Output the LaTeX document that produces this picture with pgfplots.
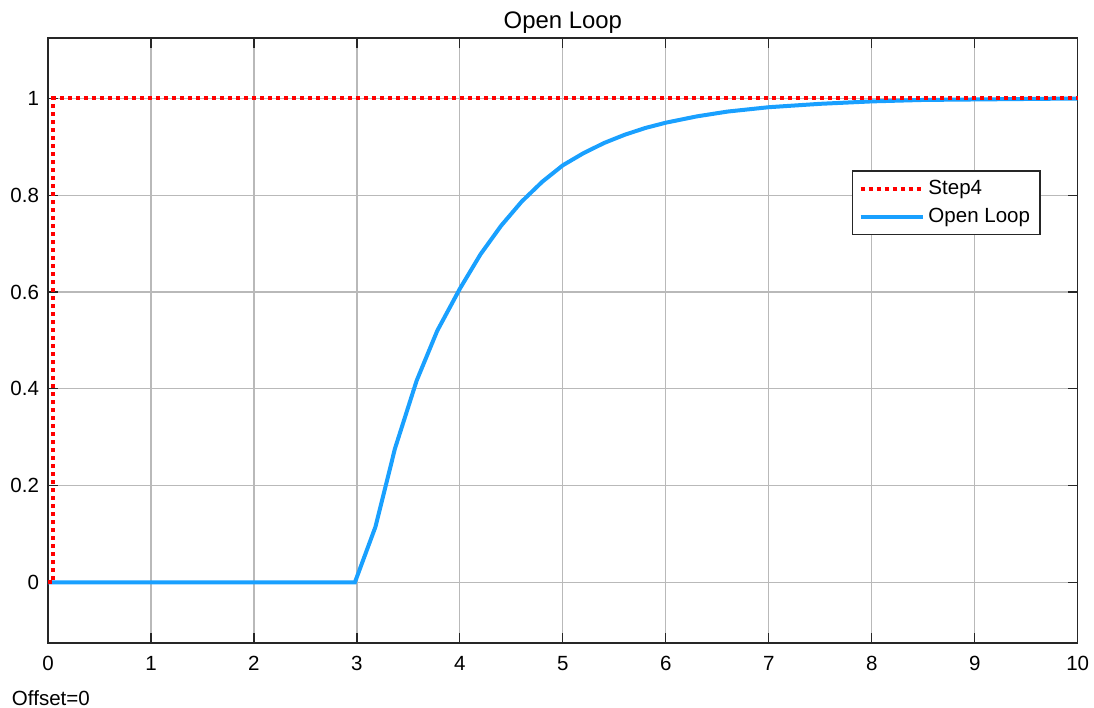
\documentclass[border=0pt]{standalone}
\usepackage{fontspec}
\setmainfont{Liberation Sans}
\usepackage{pgfplots}
\pgfplotsset{compat=1.18}
\definecolor{stepred}{rgb}{1,0,0}
\definecolor{olblue}{RGB}{25,160,255}
\definecolor{gridgray}{RGB}{185,185,185}
\definecolor{axgray}{RGB}{38,38,38}
\begin{document}
\begin{tikzpicture}
\begin{axis}[
  scale only axis, width=514.85bp, height=302.5bp,
  xmin=0, xmax=10, ymin=-0.125, ymax=1.125,
  xtick={0,1,...,10}, ytick={0,0.2,0.4,0.6,0.8,1},
  grid=major, major grid style={gridgray, line width=0.6bp},
  axis line style={axgray, line width=0.6bp},
  tick style={axgray, line width=0.6bp}, major tick length=5bp, tick align=inside,
  /pgf/number format/assume math mode=true,
  ticklabel style={font=\fontsize{10.3}{12}\selectfont, text=black},
  xticklabel style={yshift=-3bp},
  yticklabel style={xshift=-1bp},
  title={Open Loop},
  title style={at={(0.5,1)}, anchor=base, yshift=-1bp, font=\fontsize{12}{14}\selectfont},
  legend style={at={(0.964,0.781)}, anchor=north east, draw=axgray, line width=0.6bp,
    font=\fontsize{10.3}{12}\selectfont, row sep=1.5bp, inner xsep=3bp, inner ysep=2.5bp},
  legend cell align=left,
  legend image code/.code={\draw[#1] (0bp,0bp) -- (31bp,0bp);},
  clip=false,
]
\addlegendimage{stepred, line width=2bp, dash pattern=on 2bp off 2bp}
\addlegendimage{olblue, line width=2bp}
\addplot[olblue, line width=2bp, forget plot] coordinates {
(0,0) (2.98,0) (3.18,0.115) (3.37,0.277) (3.58,0.417) (3.78,0.52) (4.0,0.607)
(4.2,0.678) (4.4,0.737) (4.6,0.787) (4.8,0.828) (5.0,0.862) (5.2,0.887)
(5.4,0.908) (5.6,0.925) (5.8,0.939) (6.0,0.950) (6.3,0.963) (6.6,0.973)
(7.0,0.982) (7.5,0.989) (8.0,0.994) (8.5,0.997) (9.0,0.998) (10,1.0)};
\addplot[stepred, line width=2bp, dash pattern=on 2bp off 2bp, forget plot] coordinates {
(0,0) (0.05,0) (0.05,1) (10,1)};
\legend{Step4, Open Loop}
\coordinate (bl) at (rel axis cs:0,0);
\end{axis}
\node[anchor=base west, inner sep=0, font=\fontsize{10.3}{12}\selectfont] at ([xshift=-18.2bp,yshift=-31.3bp]bl) {Offset=0};
\pgfresetboundingbox
\path[use as bounding box] ([xshift=-24bp,yshift=-32.5bp]bl) rectangle ++(547bp,354bp);
\end{tikzpicture}
\end{document}
